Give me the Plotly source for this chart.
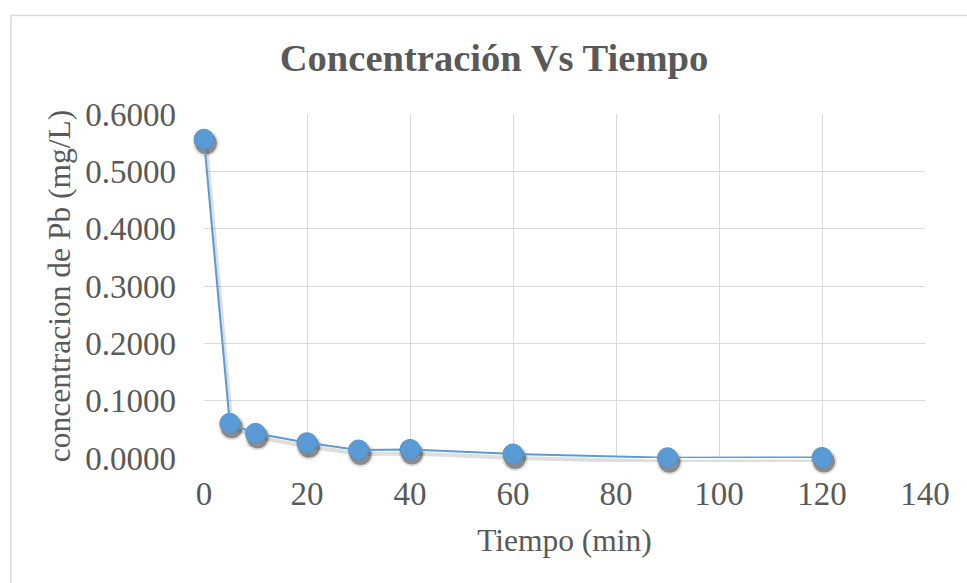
import plotly.graph_objects as go

# Lead (Pb) concentration measured over contact time
tiempo_min = [0, 5, 10, 20, 30, 40, 60, 90, 120]
conc_pb_mgL = [0.556, 0.0605, 0.043, 0.0267, 0.014, 0.015, 0.007, 0.0005, 0.001]

x_ticks = [0, 20, 40, 60, 80, 100, 120, 140]
y_ticks = [0.0, 0.1, 0.2, 0.3, 0.4, 0.5, 0.6]

W, H = 967, 583
# drop-shadow offset in pixels
SH_DX, SH_DY = 2, 4
M_L, M_R, M_T, M_B = 204, 42 - SH_DX, 114, 125 - SH_DY
PW, PH = W - M_L - M_R, H - M_T - M_B   # paper plot region incl. shadow room

X_RANGE = [0, 140]
Y_RANGE = [0, 0.6]

FONT = "Liberation Serif"
GRAY = "#595959"
GRID = "#d9d9d9"
BLUE = "#5b9bd5"

# main plotting area and the shadow area shifted right/down by the offset
main_xdom = [0, 1 - SH_DX / PW]
main_ydom = [SH_DY / PH, 1]
shad_xdom = [SH_DX / PW, 1]
shad_ydom = [0, 1 - SH_DY / PH]

fig = go.Figure()

# base subplot: carries the grid and tick labels
fig.add_trace(go.Scatter(
    x=tiempo_min, y=conc_pb_mgL, mode="markers",
    marker=dict(size=1, opacity=0),
    hoverinfo="skip", showlegend=False,
))

# soft shadow layers
fig.add_trace(go.Scatter(
    x=tiempo_min, y=conc_pb_mgL, mode="lines+markers",
    line=dict(color="rgba(0,0,0,0.13)", width=4),
    marker=dict(size=26, color="rgba(0,0,0,0.12)", line=dict(width=0)),
    xaxis="x2", yaxis="y2", hoverinfo="skip", showlegend=False,
    cliponaxis=False,
))
fig.add_trace(go.Scatter(
    x=tiempo_min, y=conc_pb_mgL, mode="markers",
    marker=dict(size=22, color="rgba(0,0,0,0.38)", line=dict(width=0)),
    xaxis="x2", yaxis="y2", hoverinfo="skip", showlegend=False,
    cliponaxis=False,
))

# the series itself, drawn last so it sits above the shadow
fig.add_trace(go.Scatter(
    x=tiempo_min, y=conc_pb_mgL, mode="lines+markers",
    line=dict(color=BLUE, width=2),
    marker=dict(size=20, color=BLUE, line=dict(color="#5592cc", width=1)),
    xaxis="x3", yaxis="y3", showlegend=False,
    cliponaxis=False,
))

axis_common = dict(
    showline=False, zeroline=False, ticks="",
    gridcolor=GRID, gridwidth=1.3,
    tickfont=dict(family=FONT, size=33, color=GRAY),
    title_font=dict(family=FONT, size=31.5, color=GRAY),
)
hidden = dict(visible=False, showgrid=False, zeroline=False)

fig.update_layout(
    width=W, height=H,
    margin=dict(l=M_L, r=M_R, t=M_T, b=M_B),
    paper_bgcolor="white", plot_bgcolor="rgba(0,0,0,0)",
    title=dict(
        text="<b>Concentración Vs Tiempo</b>",
        x=494 / W, xanchor="center", y=1 - 57 / H, yanchor="middle",
        font=dict(family=FONT, size=38.6, color=GRAY),
    ),
    xaxis=dict(
        domain=main_xdom, anchor="y",
        range=X_RANGE, tickvals=x_ticks, ticktext=[str(v) for v in x_ticks],
        title=dict(text="Tiempo (min)", standoff=17),
        ticklabelstandoff=13,
        **axis_common,
    ),
    yaxis=dict(
        domain=main_ydom, anchor="x",
        range=Y_RANGE, tickvals=y_ticks, ticktext=[f"{v:.4f}" for v in y_ticks],
        title=dict(text="concentracion de Pb (mg/L)", standoff=5),
        ticklabelstandoff=27,
        **axis_common,
    ),
    xaxis2=dict(domain=shad_xdom, range=X_RANGE, anchor="y2", **hidden),
    yaxis2=dict(domain=shad_ydom, range=Y_RANGE, anchor="x2", **hidden),
    xaxis3=dict(domain=main_xdom, range=X_RANGE, anchor="y3", **hidden),
    yaxis3=dict(domain=main_ydom, range=Y_RANGE, anchor="x3", **hidden),
    shapes=[dict(
        type="rect", xref="paper", yref="paper",
        x0=(11 - M_L) / PW, x1=(980 - M_L) / PW,
        y0=(H - M_B - 600) / PH, y1=(H - M_B - 15.5) / PH,
        line=dict(color=GRID, width=1.5), fillcolor="rgba(0,0,0,0)",
        layer="below",
    )],
)

fig.write_html("out.html")
